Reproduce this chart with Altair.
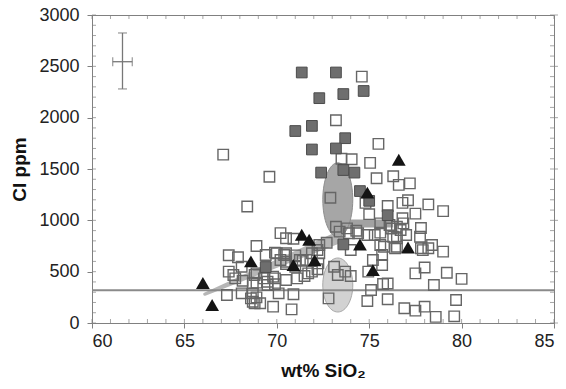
import altair as alt
import pandas as pd

# open squares
open_pts = [
    (67.1,1640),(69.6,1425),(68.4,1135),(74.6,2400),(73.2,1975),(75.5,1745),(73.5,1600),(74.05,1595),
    (75.05,1560),(75.4,1410),(76.3,1430),(76.6,1345),(77.2,1360),(72.9,1220),(70.2,875),(70.5,825),
    (70.9,820),(68.9,750),(67.4,660),(67.9,640),(69.9,685),(74.8,1170),(75.0,1060),(76.0,1140),
    (76.8,1170),(77.1,1195),(77.5,1065),(78.2,1155),(79.0,1090),(76.8,1020),(76.85,970),(77.8,925),
    (76.2,920),(75.6,970),(74.9,857),(75.3,857),(76.3,840),(77.0,857),(77.75,840),(78.4,760),
    (77.9,710),(79.0,695),(78.2,728),(75.6,760),(76.4,728),(75.7,662),(75.2,614),(74.95,500),
    (77.5,483),(78.0,540),(79.2,490),(80.0,430),(78.5,370),(76.0,385),(75.75,380),(75.1,321),
    (74.9,214),(76.0,231),(76.9,143),(77.5,120),(78.0,159),(78.6,60),(79.6,65),(79.7,224),
    (73.2,938),(73.4,890),(73.9,874),(74.4,874),(75.6,880),(76.5,938),(76.7,906),(76.1,954),
    (74.3,899),(73.8,922),(72.3,760),(72.2,711),(74.0,711),(75.8,743),(76.5,743),(77.8,728),
    (71.6,614),(73.1,548),(73.7,500),(73.3,468),(74.0,458),(75.7,565),(72.8,240),(72.7,782),
    (69.8,159),(70.8,133),(70.1,289),(70.9,280),(68.7,289),(68.8,468),(69.5,402),(70.5,419),
    (70.5,575),(71.7,483),(72.2,523),(69.4,662),(70.4,662),(71.0,548),(67.4,500),(67.65,468),
    (68.15,412),(68.7,387),(67.3,273),(68.1,289),(68.7,207),(68.8,192),(69.5,370),(69.9,435),
    (68.9,483),(68.1,548),(71.25,614),(70.5,679),(70.0,679),(71.0,659),(70.5,597),(71.4,607),
    (67.75,435),(68.9,393),(69.3,435),(69.8,451),(69.9,377),(71.1,435),(69.1,192),(71.5,458),
    (71.9,679),(72.3,679),(71.9,500),(72.25,581),(70.2,614),(76.5,825),(68.9,250),(68.6,240),
]
open_x = [p[0] for p in open_pts]
open_y = [p[1] for p in open_pts]

# filled grey squares
filled_x = [71.35, 73.2, 72.3, 73.6, 74.7, 71.0, 71.9, 73.7, 71.9, 73.2, 72.4, 73.6, 74.2, 74.5, 75.0, 76.0, 73.6, 69.4]
filled_y = [2440, 2440, 2190, 2230, 2260, 1870, 1920, 1800, 1690, 1700, 1465, 1490, 1465, 1285, 1190, 1050, 765, 545]

# black triangles
tri_x = [66.0, 66.5, 68.6, 70.9, 71.35, 71.75, 72.05, 74.5, 75.2, 76.6, 74.9, 77.1]
tri_y = [390, 175, 600, 565, 860, 810, 610, 765, 515, 1590, 1270, 735]

# grey fields (ellipses) and trend bands
ell_x = [73.3, 73.3]
ell_y = [1200, 370]
band_x = [66.1, 73.3]
band_y = [280, 830]
band_w = [3, 12]
hband_x = [73.6, 76.3]
hband_y = [970, 970]
ref_level = [320]

# error bar
err = dict(x=61.65, y=2545, xlo=61.12, xhi=62.18, ylo=2280, yhi=2825)

# axis tick positions
x_major = [60, 65, 70, 75, 80, 85]
y_major = [0, 500, 1000, 1500, 2000, 2500, 3000]
x_minor = list(range(60, 86))
y_minor = list(range(0, 3001, 100))

W, H = 462, 308
xs = alt.Scale(domain=[60, 85], nice=False, zero=False)
ys = alt.Scale(domain=[0, 3000], nice=False, zero=False)
AX = "#808080"

AXX = alt.Axis(orient="bottom", values=x_major, tickSize=5, labelPadding=4, title="wt% SiO₂",
               titlePadding=11, grid=False, domainColor=AX, tickColor=AX)
AXY = alt.Axis(orient="left", values=y_major, format="d", tickSize=5, labelPadding=8,
               title="Cl ppm", titlePadding=9, grid=False, domainColor=AX, tickColor=AX)

df_open = pd.DataFrame({"x": open_x, "y": open_y})
df_fill = pd.DataFrame({"x": filled_x, "y": filled_y})
df_tri = pd.DataFrame({"x": tri_x, "y": tri_y})
df_band = pd.DataFrame({"x": band_x, "y": band_y, "w": band_w})
df_hband = pd.DataFrame({"x": hband_x, "y": hband_y})
df_ref = pd.DataFrame({"y": ref_level})
df_err = pd.DataFrame([err])
df_xmin = pd.DataFrame({"v": x_minor})
df_ymin = pd.DataFrame({"v": y_minor})
df_ymaj = pd.DataFrame({"v": y_major})

X = lambda f: alt.X(f, scale=xs, axis=AXX)
Y = lambda f: alt.Y(f, scale=ys, axis=AXY)

band = alt.Chart(df_band).mark_trail(color="#b6b6b6", opacity=1).encode(
    x=X("x:Q"), y=Y("y:Q"), size=alt.Size("w:Q", scale=None, legend=None))
hband = alt.Chart(df_hband).mark_line(color="#a2a2a2", strokeWidth=8, strokeCap="butt").encode(
    x=X("x:Q"), y=Y("y:Q"))
ell_dark = alt.Chart(pd.DataFrame({"x": [ell_x[0]], "y": [ell_y[0]]})).mark_point(
    shape="M -0.405 0 A 0.405 1 0 1 0 0.405 0 A 0.405 1 0 1 0 -0.405 0",
    filled=True, color="#a6a6a6", stroke="#8e8e8e", strokeWidth=1, opacity=1, size=5476,
).encode(x=X("x:Q"), y=Y("y:Q"))
ell_light = alt.Chart(pd.DataFrame({"x": [ell_x[1]], "y": [ell_y[1]]})).mark_point(
    shape="M -0.556 0 A 0.556 1 0 1 0 0.556 0 A 0.556 1 0 1 0 -0.556 0",
    filled=True, color="#d2d2d2", stroke="#a8a8a8", strokeWidth=1, opacity=1, size=2916,
).encode(x=X("x:Q"), y=Y("y:Q"))

ref = alt.Chart(df_ref).mark_rule(color="#8a8a8a", strokeWidth=2).encode(y=Y("y:Q"))

opens = alt.Chart(df_open).mark_point(shape="square", filled=False, color="#666666",
                                      strokeWidth=1.4, size=110, opacity=1).encode(
    x=X("x:Q"), y=Y("y:Q"))
fills = alt.Chart(df_fill).mark_point(shape="square", filled=True, color="#6e6e6e",
                                      stroke="#4c4c4c", strokeWidth=1, size=115, opacity=1).encode(
    x=X("x:Q"), y=Y("y:Q"))
tris = alt.Chart(df_tri).mark_point(shape="triangle-up", filled=True, color="#141414",
                                    size=190, opacity=1).encode(x=X("x:Q"), y=Y("y:Q"))

# inner minor ticks on the frame
t_bot = alt.Chart(df_xmin).mark_tick(orient="vertical", size=4, thickness=1, color=AX).encode(
    x=X("v:Q"), y=alt.value(H - 2))
t_top = alt.Chart(df_xmin).mark_tick(orient="vertical", size=4, thickness=1, color=AX).encode(
    x=X("v:Q"), y=alt.value(2))
t_left = alt.Chart(df_ymin).mark_tick(orient="horizontal", size=4, thickness=1, color=AX).encode(
    y=Y("v:Q"), x=alt.value(2))
t_right = alt.Chart(df_ymin).mark_tick(orient="horizontal", size=4, thickness=1, color=AX).encode(
    y=Y("v:Q"), x=alt.value(W - 2))
t_right_out = alt.Chart(df_ymaj).mark_tick(orient="horizontal", size=4, thickness=1, color=AX).encode(
    y=Y("v:Q"), x=alt.value(W + 2))

EC = "#777777"
eb_v = alt.Chart(df_err).mark_rule(color=EC, strokeWidth=1.3).encode(
    x=X("x:Q"), y=Y("ylo:Q"), y2="yhi:Q")
eb_h = alt.Chart(df_err).mark_rule(color=EC, strokeWidth=1.3).encode(
    y=Y("y:Q"), x=X("xlo:Q"), x2="xhi:Q")
cap_top = alt.Chart(df_err).mark_tick(orient="horizontal", color=EC, thickness=1.3, size=9).encode(
    x=X("x:Q"), y=Y("yhi:Q"))
cap_bot = alt.Chart(df_err).mark_tick(orient="horizontal", color=EC, thickness=1.3, size=9).encode(
    x=X("x:Q"), y=Y("ylo:Q"))
cap_l = alt.Chart(df_err).mark_tick(orient="vertical", color=EC, thickness=1.3, size=9).encode(
    x=X("xlo:Q"), y=Y("y:Q"))
cap_r = alt.Chart(df_err).mark_tick(orient="vertical", color=EC, thickness=1.3, size=9).encode(
    x=X("xhi:Q"), y=Y("y:Q"))

chart = alt.layer(
    band, hband, ell_dark, ell_light, ref, opens, fills, tris,
    t_bot, t_top, t_left, t_right, t_right_out,
    eb_v, eb_h, cap_top, cap_bot, cap_l, cap_r,
).properties(
    width=W, height=H,
    autosize=alt.AutoSizeParams(type="none"),
    padding={"left": 84, "top": 7, "right": 4, "bottom": 58},
).configure(font="Liberation Sans").configure_view(
    stroke=AX, strokeWidth=1
).configure_axis(
    labelFontSize=18, labelColor="#222222", titleFontSize=19, titleFontWeight="bold",
    titleColor="#111111", labelFont="Liberation Sans", titleFont="Liberation Sans",
)

chart.save("out.html", embed_options={"renderer": "svg", "actions": False})
